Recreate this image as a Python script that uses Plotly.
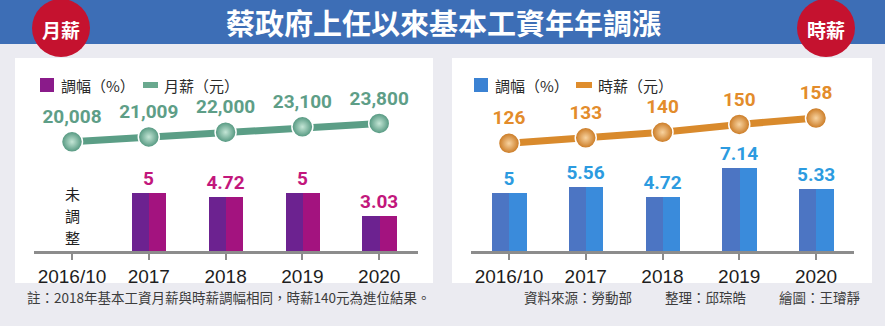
import plotly.graph_objects as go

# ---------------- data ----------------
categories = ["2016/10", "2017", "2018", "2019", "2020"]
monthly_wage = [20008, 21009, 22000, 23100, 23800]
monthly_pct = [None, 5, 4.72, 5, 3.03]
hourly_wage = [126, 133, 140, 150, 158]
hourly_pct = [5, 5.56, 4.72, 7.14, 5.33]

title_text = "蔡政府上任以來基本工資年年調漲"
note_text = "註：2018年基本工資月薪與時薪調幅相同，時薪140元為進位結果。"
source_texts = ["資料來源：勞動部", "整理：邱琮皓", "繪圖：王璿靜"]
unadjusted_chars = ["未", "調", "整"]

W, H = 885, 326


def X(px):
    return px / W


def Y(py):
    return 1 - py / H


CJK = "Noto Sans CJK TC"
NUM = "Roboto, sans-serif"
TICK = "Liberation Sans, Arial, sans-serif"

fig = go.Figure()

# ---- left panel: bars (two-tone) ----
fig.add_trace(go.Bar(
    x=categories, y=monthly_pct, xaxis="x", yaxis="y",
    width=0.45, marker=dict(color="#a3137f", line=dict(width=0)),
    texttemplate="%{y}", textposition="outside", cliponaxis=False, constraintext="none",
    textfont=dict(family=NUM, size=19, color="#c2177c", weight="bold"),
    showlegend=False, hoverinfo="skip"))
fig.add_trace(go.Bar(
    x=categories, y=monthly_pct, xaxis="x", yaxis="y",
    width=0.225, offset=-0.225, marker=dict(color="#6c2290", line=dict(width=0)),
    showlegend=False, hoverinfo="skip"))

# ---- left panel: line ----
fig.add_trace(go.Scatter(
    x=categories, y=monthly_wage, xaxis="x", yaxis="y2",
    mode="lines+markers+text", texttemplate="%{y:,}", textposition="top center",
    line=dict(color="#5b9e86", width=7),
    marker=dict(size=21, color="#4f947c", gradient=dict(type="radial", color="#c4e6d6"),
                line=dict(color="#ffffff", width=1.5)),
    textfont=dict(family=NUM, size=19, color="#5e9e87", weight="bold"),
    cliponaxis=False, showlegend=False, hoverinfo="skip"))

# ---- right panel: bars (two-tone) ----
fig.add_trace(go.Bar(
    x=categories, y=hourly_pct, xaxis="x2", yaxis="y3",
    width=0.45, marker=dict(color="#3a8bdb", line=dict(width=0)),
    texttemplate="%{y}", textposition="outside", cliponaxis=False, constraintext="none",
    textfont=dict(family=NUM, size=19, color="#2c9be0", weight="bold"),
    showlegend=False, hoverinfo="skip"))
fig.add_trace(go.Bar(
    x=categories, y=hourly_pct, xaxis="x2", yaxis="y3",
    width=0.225, offset=-0.225, marker=dict(color="#4c75c3", line=dict(width=0)),
    showlegend=False, hoverinfo="skip"))

# ---- right panel: line ----
fig.add_trace(go.Scatter(
    x=categories, y=hourly_wage, xaxis="x2", yaxis="y4",
    mode="lines+markers+text", texttemplate="%{y}", textposition="top center",
    line=dict(color="#d98a2c", width=7),
    marker=dict(size=21, color="#c9771f", gradient=dict(type="radial", color="#f8d3a0"),
                line=dict(color="#ffffff", width=1.5)),
    textfont=dict(family=NUM, size=19, color="#e38c2b", weight="bold"),
    cliponaxis=False, showlegend=False, hoverinfo="skip"))

xaxis_common = dict(
    type="category", range=[-0.5, 4.5], showgrid=False, zeroline=False,
    showline=True, linecolor="#8c8c8c", linewidth=2.5,
    ticks="outside", ticklen=6, tickwidth=2, tickcolor="#8c8c8c",
    tickfont=dict(family=TICK, size=19, color="#1e1e1e"), fixedrange=True)
hidden_y = dict(visible=False, showgrid=False, zeroline=False, fixedrange=True)

bar_dom = [Y(251), Y(134.5)]

shapes = []
# panels
shapes.append(dict(type="rect", xref="paper", yref="paper", x0=X(15), x1=X(433), y0=Y(283), y1=Y(58),
                   fillcolor="#ffffff", line=dict(width=0), layer="below"))
shapes.append(dict(type="rect", xref="paper", yref="paper", x0=X(452), x1=X(872), y0=Y(283), y1=Y(58),
                   fillcolor="#ffffff", line=dict(width=0), layer="below"))
# header
shapes.append(dict(type="rect", xref="paper", yref="paper", x0=0, x1=1, y0=Y(44), y1=1,
                   fillcolor="#3d6eb6", line=dict(width=0), layer="below"))
# red circles
for cx in (61, 826):
    shapes.append(dict(type="circle", xref="paper", yref="paper",
                       x0=X(cx - 29), x1=X(cx + 29), y0=Y(57), y1=Y(-1),
                       fillcolor="#c5122f", line=dict(width=0)))
# legend swatches
shapes.append(dict(type="rect", xref="paper", yref="paper", x0=X(40), x1=X(54), y0=Y(92), y1=Y(78),
                   fillcolor="#8a1b8a", line=dict(width=0)))
shapes.append(dict(type="rect", xref="paper", yref="paper", x0=X(143), x1=X(158), y0=Y(88), y1=Y(82),
                   fillcolor="#6aa98f", line=dict(width=0)))
shapes.append(dict(type="rect", xref="paper", yref="paper", x0=X(474), x1=X(488), y0=Y(92), y1=Y(78),
                   fillcolor="#3b82d3", line=dict(width=0)))
shapes.append(dict(type="rect", xref="paper", yref="paper", x0=X(576), x1=X(592), y0=Y(88), y1=Y(82),
                   fillcolor="#df8d2c", line=dict(width=0)))

annotations = []


def txt(text, px, py, size, color, family=CJK, xanchor="left", weight="normal"):
    annotations.append(dict(text=text, x=X(px), y=Y(py), xref="paper", yref="paper",
                            xanchor=xanchor, yanchor="middle", showarrow=False,
                            font=dict(family=family, size=size, color=color, weight=weight)))


txt(title_text, 443.5, 22, 29, "#ffffff", xanchor="center", weight="bold")
txt("月薪", 61, 29, 19, "#ffffff", xanchor="center", weight="bold")
txt("時薪", 826, 29, 19, "#ffffff", xanchor="center", weight="bold")

txt("調幅（%）", 59, 85, 15, "#2a2a2a")
txt("月薪（元）", 162, 85, 15, "#2a2a2a")
txt("調幅（%）", 493, 85, 15, "#2a2a2a")
txt("時薪（元）", 596, 85, 15, "#2a2a2a")

txt(note_text, 25, 297, 13.5, "#3c3c3c")
for t, px in zip(source_texts, (522, 663, 777)):
    txt(t, px, 297, 13.5, "#3c3c3c")

# "未調整" stacked vertically above the 2016/10 tick
for ch, up in zip(unadjusted_chars, (57, 35, 13)):
    annotations.append(dict(text=ch, x=categories[0], y=0, xref="x", yref="y",
                            xanchor="center", yanchor="middle", yshift=up, showarrow=False,
                            font=dict(family=CJK, size=15, color="#1e1e1e")))

fig.update_layout(
    width=W, height=H, margin=dict(l=0, r=0, t=0, b=0),
    paper_bgcolor="#ebebf1", plot_bgcolor="rgba(0,0,0,0)",
    barmode="overlay", bargap=0,
    xaxis=dict(domain=[X(33.6), X(417.6)], anchor="y", **xaxis_common),
    yaxis=dict(domain=bar_dom, range=[0, 10], anchor="x", **hidden_y),
    yaxis2=dict(domain=[Y(151.5), Y(112.83)], range=[18000, 26000], anchor="x", **hidden_y),
    xaxis2=dict(domain=[X(470.6), X(854.4)], anchor="y3", **xaxis_common),
    yaxis3=dict(domain=bar_dom, range=[0, 10], anchor="x2", **hidden_y),
    yaxis4=dict(domain=[Y(155.94), Y(104.7)], range=[110, 175], anchor="x2", **hidden_y),
    shapes=shapes, annotations=annotations, showlegend=False,
)

fig.write_html("out.html")
